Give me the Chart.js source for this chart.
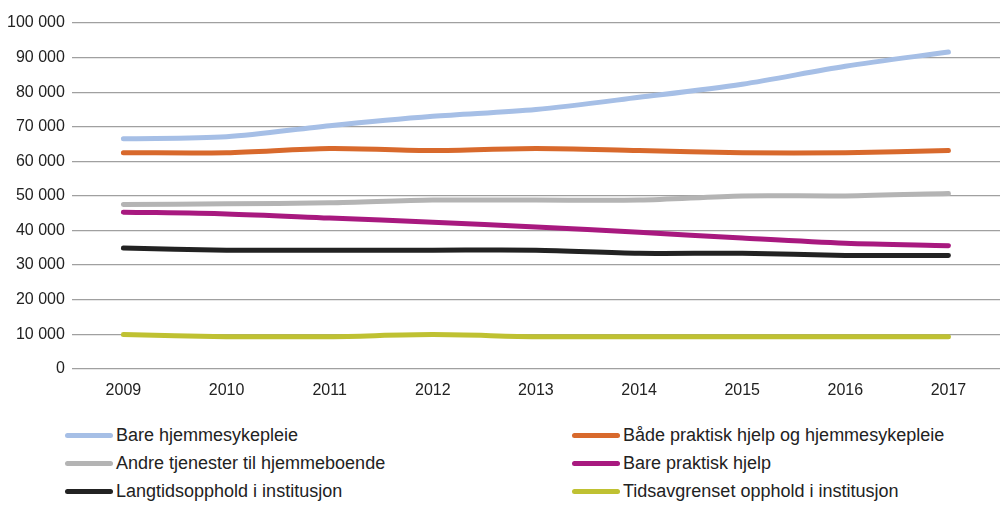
<!DOCTYPE html>
<html>
<head>
<meta charset="utf-8">
<script src="https://cdn.jsdelivr.net/npm/chart.js@4"></script>
<style>
  body { margin: 0; background: #fff; font-family: "Liberation Sans", Arial, sans-serif; }
  #wrap { position: relative; width: 1000px; height: 516px; }
  #chartBox { position: absolute; left: 0; top: 0; width: 1000px; height: 404px; }
  #legend { position: absolute; left: 0; top: 421px; width: 1000px; }
  .item { position: absolute; height: 28px; display: flex; align-items: center; font-size: 18px; color: #222; white-space: nowrap; }
  .swatch { width: 48px; height: 5px; border-radius: 3px; margin-right: 3px; }
</style>
</head>
<body>
<div id="wrap">
  <div id="chartBox"><canvas id="chart"></canvas></div>
  <div id="legend"></div>
</div>
<script>
const years = ['2009', '2010', '2011', '2012', '2013', '2014', '2015', '2016', '2017'];

const bareHjemmesykepleie = [66500, 67100, 70300, 73000, 75000, 78500, 82300, 87500, 91600];
const baadePraktiskOgSykepleie = [62500, 62500, 63700, 63100, 63700, 63100, 62500, 62500, 63100];
const andreTjenester = [47500, 47700, 48000, 48800, 48800, 48800, 50000, 50000, 50700];
const barePraktiskHjelp = [45300, 44800, 43600, 42400, 41000, 39500, 37800, 36300, 35600];
const langtidsopphold = [34900, 34300, 34300, 34300, 34300, 33400, 33400, 32800, 32800];
const tidsavgrensetOpphold = [9900, 9300, 9300, 9900, 9300, 9300, 9300, 9300, 9300];

const seriesNames = [
  'Bare hjemmesykepleie',
  'Både praktisk hjelp og hjemmesykepleie',
  'Andre tjenester til hjemmeboende',
  'Bare praktisk hjelp',
  'Langtidsopphold i institusjon',
  'Tidsavgrenset opphold i institusjon'
];
const seriesData = [bareHjemmesykepleie, baadePraktiskOgSykepleie, andreTjenester, barePraktiskHjelp, langtidsopphold, tidsavgrensetOpphold];
const seriesColors = ['#a6bfe6', '#d8692c', '#b4b4b4', '#a8197f', '#222222', '#bfc132'];

function fmt(v) {
  return String(v).replace(/\B(?=(\d{3})+(?!\d))/g, ' ');
}

const chart = new Chart(document.getElementById('chart'), {
  type: 'line',
  data: {
    labels: years,
    datasets: seriesNames.map((name, i) => ({
      label: name,
      data: seriesData[i],
      borderColor: seriesColors[i],
      backgroundColor: seriesColors[i],
      borderWidth: 5,
      borderCapStyle: 'round',
      pointRadius: 0,
      tension: 0.3,
      fill: false
    }))
  },
  options: {
    responsive: true,
    maintainAspectRatio: false,
    animation: false,
    layout: { padding: { top: 23, right: 0, left: 0, bottom: 0 } },
    plugins: { legend: { display: false }, tooltip: { enabled: false } },
    scales: {
      x: {
        offset: true,
        grid: { display: false },
        border: { display: false },
        ticks: { color: '#222', font: { size: 16, family: '"Liberation Sans", Arial' }, padding: 4 }
      },
      y: {
        min: 0,
        max: 100000,
        border: { display: false },
        grid: { color: '#a0a0a0', lineWidth: 1.2, drawTicks: false },
        ticks: {
          stepSize: 10000,
          color: '#222',
          padding: 7,
          font: { size: 16, family: '"Liberation Sans", Arial' },
          callback: v => fmt(v)
        }
      }
    }
  }
});

// legend in two columns, like the original
const legend = document.getElementById('legend');
const colX = [65, 572];
chart.data.datasets.forEach((ds, i) => {
  const el = document.createElement('div');
  el.className = 'item';
  el.style.left = colX[i % 2] + 'px';
  el.style.top = (Math.floor(i / 2) * 28) + 'px';
  el.innerHTML = '<span class="swatch" style="background:' + ds.borderColor + '"></span>' + ds.label;
  legend.appendChild(el);
});
</script>
</body>
</html>
